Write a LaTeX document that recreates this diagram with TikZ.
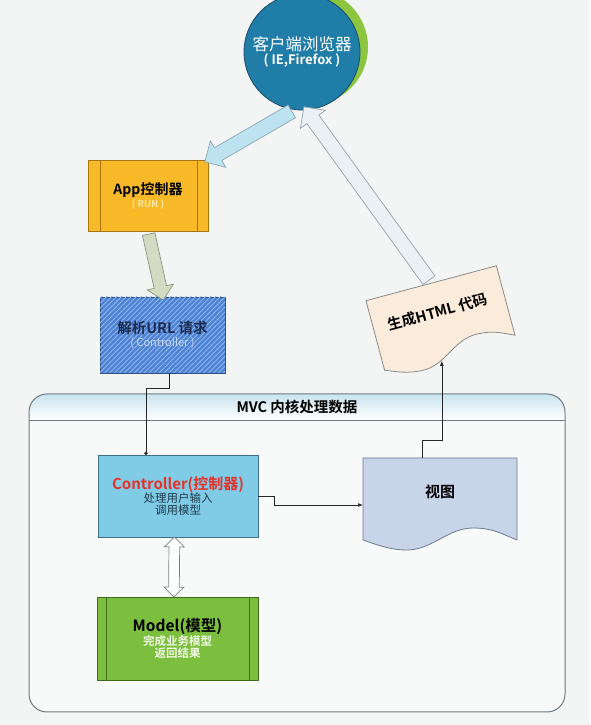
\documentclass[tikz,border=0pt]{standalone}
\usepackage{fontspec}
\setmainfont{Noto Sans CJK SC}[BoldFont={Noto Sans CJK SC Bold}]
\usetikzlibrary{shapes.arrows,calc,patterns.meta,arrows.meta,positioning}

\definecolor{bgGray}{HTML}{F3F5F5}
\definecolor{browserBlue}{HTML}{1F7DA7}
\definecolor{browserLine}{HTML}{1B4C68}
\definecolor{browserGreen}{HTML}{8CC63F}
\definecolor{appFill}{HTML}{F7B928}
\definecolor{appLine}{HTML}{A8740E}
\definecolor{appSub}{HTML}{FCE7A6}
\definecolor{urlFill}{HTML}{4C82D4}
\definecolor{urlHatch}{HTML}{93B7EE}
\definecolor{urlLine}{HTML}{2F4F86}
\definecolor{urlText}{HTML}{1C2B4E}
\definecolor{urlSub}{HTML}{C6D8F2}
\definecolor{ctrlFill}{HTML}{80CBE5}
\definecolor{ctrlLine}{HTML}{3D6F8A}
\definecolor{ctrlRed}{HTML}{E8302A}
\definecolor{ctrlText}{HTML}{1E3A4C}
\definecolor{modelFill}{HTML}{7CBF3F}
\definecolor{modelLine}{HTML}{3E6B1C}
\definecolor{modelSub}{HTML}{F2F8E6}
\definecolor{viewFill}{HTML}{C8D4E8}
\definecolor{viewLine}{HTML}{6D7A8E}
\definecolor{htmlFill}{HTML}{FBEBDB}
\definecolor{htmlLine}{HTML}{8A8A8A}
\definecolor{mvcLine}{HTML}{6E7A80}
\definecolor{mvcBody}{HTML}{F8FAFA}
\definecolor{hdrTop}{HTML}{C9E4EE}
\definecolor{arrowBlue}{HTML}{BDE2F0}
\definecolor{arrowBlueLine}{HTML}{8FA6B2}
\definecolor{arrowGreen}{HTML}{D3DCC2}
\definecolor{arrowGreenLine}{HTML}{889680}
\definecolor{arrowWhite}{HTML}{EAF0F4}
\definecolor{arrowGrayLine}{HTML}{98A2AA}

% block arrow between two points
\newcommand{\blockarrow}[3]{%
  \path let \p1=($(#2)-(#1)$), \n1={atan2(\y1,\x1)}, \n2={veclen(\x1,\y1)}
    in node[#3, minimum height=\n2, rotate=\n1, anchor=center] at ($(#1)!0.5!(#2)$) {};}

\begin{document}
\begin{tikzpicture}[x=1pt, y=1pt]
  \tikzstyle{box} = [draw, line width=0.8pt, inner sep=0pt, outer sep=0pt, align=center, font=\bfseries]
  \tikzstyle{bigarrow} = [single arrow, draw, line width=0.7pt, inner xsep=0pt, inner ysep=7pt, single arrow head extend=8pt]
  \tikzstyle{twoarrow} = [double arrow, draw, line width=0.7pt, inner xsep=0pt, inner ysep=5pt, double arrow head extend=4.5pt]
  \tikzstyle{link} = [draw=black!85, line width=0.6pt]

  \fill[bgGray] (0,0) rectangle (590,725);
  \useasboundingbox (0,0) rectangle (590,725);

  % MVC container
  \node[fill=mvcBody, rounded corners=18pt, inner sep=0pt, outer sep=0pt, minimum width=536pt, minimum height=318pt] (mvc) at (297,172) {};
  \begin{scope}
    \clip[rounded corners=18pt] (mvc.south west) rectangle (mvc.north east);
    \shade[top color=hdrTop, bottom color=white] (mvc.north west) rectangle ($(mvc.north east)+(0,-26)$);
  \end{scope}
  \draw[mvcLine, line width=1pt, rounded corners=18pt] (mvc.south west) rectangle (mvc.north east);
  \draw[mvcLine, line width=0.8pt] ($(mvc.north west)+(0,-26)$) -- ($(mvc.north east)+(0,-26)$);
  \node[font=\bfseries\fontsize{14.5}{16}\selectfont] (mvctitle) at ($(mvc.north)+(0,-12.5)$) {MVC 内核处理数据};

  % browser
  \node[circle, fill=browserGreen, minimum size=116pt, inner sep=0pt] (browserback) at (310,678) {};
  \node[circle, draw=browserLine, line width=0.8pt, fill=browserBlue, minimum size=116pt, inner sep=0pt, outer sep=0pt, align=center, text=white] (browser) at (302,673)
    {{\fontsize{16.5}{18}\selectfont 客户端浏览器}\\[0pt]{\bfseries\fontsize{13}{14}\selectfont ( IE,Firefox )}};

  % boxes
  \node[box, fill=appFill, draw=appLine, minimum width=120pt, minimum height=71pt] (app) at (148,529.5)
    {{\fontsize{14}{16}\selectfont App控制器}\\[1pt]{\color{appSub}\fontsize{9.5}{11}\selectfont ( RUN )}};
  \draw[appLine, line width=0.8pt] ([xshift=12pt]app.north west) -- ([xshift=12pt]app.south west);
  \draw[appLine, line width=0.8pt] ([xshift=-11pt]app.north east) -- ([xshift=-11pt]app.south east);

  \node[box, fill=urlFill, draw=urlLine, postaction={pattern={Lines[angle=45,distance=3.5pt,line width=0.9pt]}, pattern color=urlHatch},
    minimum width=125pt, minimum height=76pt] (url) at (162.5,390)
    {{\color{urlText}\fontsize{14.5}{16}\selectfont 解析URL 请求}\\[1pt]{\color{urlSub}\mdseries\fontsize{11}{12}\selectfont ( Controller )}};

  \node[box, fill=ctrlFill, draw=ctrlLine, minimum width=160pt, minimum height=82pt] (ctrl) at (178,229)
    {{\color{ctrlRed}\fontsize{15}{16}\selectfont Controller(控制器)}\\[0pt]{\color{ctrlText}\mdseries\fontsize{11.5}{14}\selectfont 处理用户输入}\\[0pt]{\color{ctrlText}\mdseries\fontsize{11.5}{14}\selectfont 调用模型}};

  \node[box, fill=modelFill, draw=modelLine, minimum width=161pt, minimum height=83pt] (model) at (177.5,86.5)
    {{\fontsize{15.5}{17}\selectfont Model(模型)}\\[0pt]{\color{modelSub}\fontsize{11.5}{14}\selectfont 完成业务模型}\\[0pt]{\color{modelSub}\fontsize{11.5}{14}\selectfont 返回结果}};
  \draw[modelLine, line width=0.8pt] ([xshift=9pt]model.north west) -- ([xshift=9pt]model.south west);
  \draw[modelLine, line width=0.8pt] ([xshift=-9pt]model.north east) -- ([xshift=-9pt]model.south east);

  % view document
  \node[minimum width=154pt, minimum height=82pt, inner sep=0pt, outer sep=0pt] (view) at (440,226) {};
  \draw[viewLine, fill=viewFill, line width=0.8pt] (view.south west) -- (view.north west) -- (view.north east) -- (view.south east)
    .. controls +(-15,6) and +(20,0) .. ($(view.south)+(33,12)$)
    .. controls +(-25,0) and +(25,0) .. ($(view.south)+(-33,-10)$)
    .. controls +(-18,0) and +(12,-4) .. (view.south west) -- cycle;
  \node[font=\bfseries\fontsize{15}{17}\selectfont] (viewtxt) at ($(view.center)+(0,7)$) {视图};

  % html document
  \node[rotate=15, minimum width=135pt, minimum height=72pt, inner sep=0pt, outer sep=0pt] (html) at (440.5,407) {};
  \begin{scope}[shift={(html.center)}, rotate=15]
    \draw[htmlLine, fill=htmlFill, line width=0.8pt] (-67.5,-36) -- (-67.5,36) -- (67.5,36) -- (67.5,-36)
      .. controls +(-13,6) and +(18,0) .. (29,-25)
      .. controls +(-22,0) and +(22,0) .. (-29,-46)
      .. controls +(-16,0) and +(10,-4) .. (-67.5,-36) -- cycle;
  \end{scope}
  \node[rotate=15, font=\bfseries\fontsize{14.5}{16}\selectfont] (htmltxt) at ($(html.center)+(-3,6)$) {生成HTML 代码};

  % block arrows
  \blockarrow{browser.-97}{app.north east}{bigarrow, fill=arrowBlue, draw=arrowBlueLine}
  \blockarrow{app.south}{url.north}{bigarrow, inner ysep=6pt, single arrow head extend=7pt, fill=arrowGreen, draw=arrowGreenLine}
  \blockarrow{html.north}{browser.-86}{bigarrow, fill=arrowWhite, draw=arrowGrayLine}
  \blockarrow{ctrl.-95}{model.95}{twoarrow, fill=white, draw=arrowGrayLine!80!black}

  % links
  \draw[link, -{Circle[length=3.5pt]}] (url.-80) -- ++(0,-15) -| ($(ctrl.north west)!0.3!(ctrl.north east)$);
  \draw[link, -{Latex[length=5pt]}] (ctrl.east) -- ++(16,0) |- ($(view.west)+(0,-6)$);
  \draw[link, -{Latex[length=5pt]}] ($(view.north)+(-18,0)$) -- ++(0,18) -| ($(html.south)+(-8,-8)$);
\end{tikzpicture}
\end{document}
